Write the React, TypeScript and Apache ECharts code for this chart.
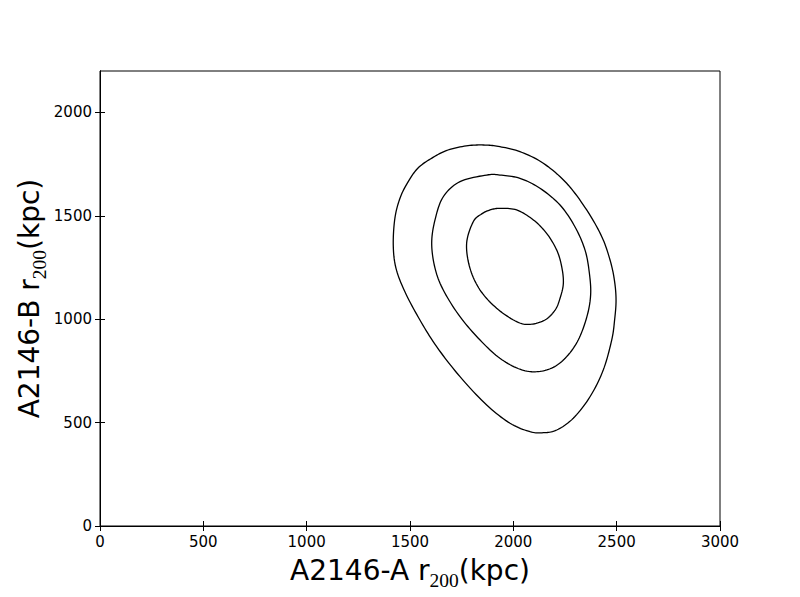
import React, { useEffect, useRef } from "react";
import * as echarts from "echarts";

const xTicks = [0, 500, 1000, 1500, 2000, 2500, 3000];
const yTicks = [0, 500, 1000, 1500, 2000];

const outerX = [1419, 1427, 1452, 1490, 1539, 1606, 1684, 1781, 1863, 1935, 2032, 2145, 2258, 2355, 2428, 2468, 2489, 2497, 2490, 2476, 2435, 2371, 2290, 2210, 2145, 2081, 1984, 1871, 1742, 1629, 1548, 1476, 1432];
const outerY = [1359, 1489, 1586, 1663, 1731, 1779, 1818, 1839, 1842, 1834, 1810, 1754, 1657, 1528, 1399, 1286, 1189, 1093, 996, 899, 754, 625, 521, 464, 451, 456, 497, 585, 722, 867, 996, 1131, 1247];

const middleX = [1605, 1621, 1661, 1742, 1871, 1935, 2032, 2129, 2226, 2298, 2347, 2368, 2374, 2356, 2314, 2258, 2193, 2113, 2032, 1935, 1839, 1742, 1661, 1621];
const middleY = [1367, 1480, 1592, 1665, 1697, 1697, 1681, 1633, 1552, 1447, 1334, 1222, 1117, 1012, 899, 819, 767, 746, 758, 811, 899, 1012, 1141, 1247];

const innerX = [1774, 1806, 1847, 1887, 1935, 2016, 2097, 2161, 2210, 2234, 2242, 2226, 2202, 2153, 2081, 2016, 1919, 1839, 1790];
const innerY = [1367, 1471, 1509, 1528, 1536, 1528, 1480, 1415, 1334, 1254, 1173, 1101, 1044, 996, 975, 988, 1053, 1141, 1247];

// Closed Catmull-Rom spline through pixel points
function closedSpline(pts: number[][], steps: number): number[][] {
  const n = pts.length;
  const out: number[][] = [];
  for (let i = 0; i < n; i++) {
    const p0 = pts[(i - 1 + n) % n];
    const p1 = pts[i];
    const p2 = pts[(i + 1) % n];
    const p3 = pts[(i + 2) % n];
    for (let s = 0; s < steps; s++) {
      const t = s / steps;
      const t2 = t * t;
      const t3 = t2 * t;
      const f = (a: number, b: number, c: number, d: number) =>
        0.5 * (2 * b + (-a + c) * t + (2 * a - 5 * b + 4 * c - d) * t2 + (-a + 3 * b - 3 * c + d) * t3);
      out.push([f(p0[0], p1[0], p2[0], p3[0]), f(p0[1], p1[1], p2[1], p3[1])]);
    }
  }
  out.push(out[0]);
  return out;
}

export default function App() {
  const ref = useRef<HTMLDivElement>(null);
  useEffect(() => {
    if (!ref.current) return;
    const chart = echarts.init(ref.current, null, { renderer: "svg" });
    const tickStyle = { show: true, inside: true, length: 5, lineStyle: { color: "#000", width: 1 } };
    const labelFont = { fontFamily: "DejaVu Sans", fontSize: 15, color: "#000" };
    const nameRich = {
      m: { fontFamily: "DejaVu Sans", fontSize: 28, color: "#000", lineHeight: 40, verticalAlign: "middle" },
      s: { fontFamily: "Liberation Serif", fontSize: 19.5, color: "#000", lineHeight: 21, verticalAlign: "bottom" },
    };
    const contourSeries = (xs: number[], ys: number[]) => ({
      type: "custom",
      xAxisIndex: 0,
      yAxisIndex: 0,
      silent: true,
      clip: false,
      data: [[xs[0], ys[0]]],
      renderItem: (_params: any, api: any) => {
        const px = xs.map((x, i) => api.coord([x, ys[i]]));
        const pts = closedSpline(px, 10);
        return {
          type: "polyline",
          shape: { points: pts },
          style: { stroke: "#000", lineWidth: 1.3, fill: "none" },
        };
      },
    });
    chart.setOption({
      animation: false,
      backgroundColor: "#fff",
      grid: { left: 100, right: 80, top: 71, bottom: 71, show: true, borderColor: "#000", borderWidth: 1, backgroundColor: "transparent" },
      xAxis: [
        {
          type: "value",
          min: 0,
          max: 3000,
          interval: 500,
          position: "bottom",
          axisLine: { show: true, lineStyle: { color: "#000", width: 1 } },
          axisTick: { ...tickStyle, customValues: xTicks },
          axisLabel: { ...labelFont, margin: 8, customValues: xTicks, formatter: (v: number) => String(v) },
          splitLine: { show: false },
          name: "{m|A2146-A r}{s|200}{m|(kpc)}",
          nameLocation: "middle",
          nameGap: 24,
          nameMoveOverlap: false,
          nameTextStyle: { rich: nameRich },
        },
        {
          type: "value",
          min: 0,
          max: 3000,
          interval: 500,
          position: "top",
          axisLine: { show: true, lineStyle: { color: "#000", width: 1 } },
          axisTick: { ...tickStyle, customValues: xTicks },
          axisLabel: { show: false },
          splitLine: { show: false },
        },
      ],
      yAxis: [
        {
          type: "value",
          min: 0,
          max: 2200,
          interval: 500,
          position: "left",
          axisLine: { show: true, lineStyle: { color: "#000", width: 1 } },
          axisTick: { ...tickStyle, customValues: yTicks },
          axisLabel: { ...labelFont, margin: 8, customValues: yTicks, formatter: (v: number) => String(v) },
          splitLine: { show: false },
          name: "{m|A2146-B r}{s|200}{m|(kpc)}",
          nameLocation: "middle",
          nameGap: 51,
          nameMoveOverlap: false,
          nameTextStyle: { rich: nameRich },
        },
        {
          type: "value",
          min: 0,
          max: 2200,
          interval: 500,
          position: "right",
          axisLine: { show: true, lineStyle: { color: "#000", width: 1 } },
          axisTick: { ...tickStyle, customValues: yTicks },
          axisLabel: { show: false },
          splitLine: { show: false },
        },
      ],
      series: [
        contourSeries(outerX, outerY),
        contourSeries(middleX, middleY),
        contourSeries(innerX, innerY),
      ],
    });
    return () => chart.dispose();
  }, []);
  return <div ref={ref} style={{ width: 800, height: 597, position: "absolute", left: 0, top: 0 }} />;
}
